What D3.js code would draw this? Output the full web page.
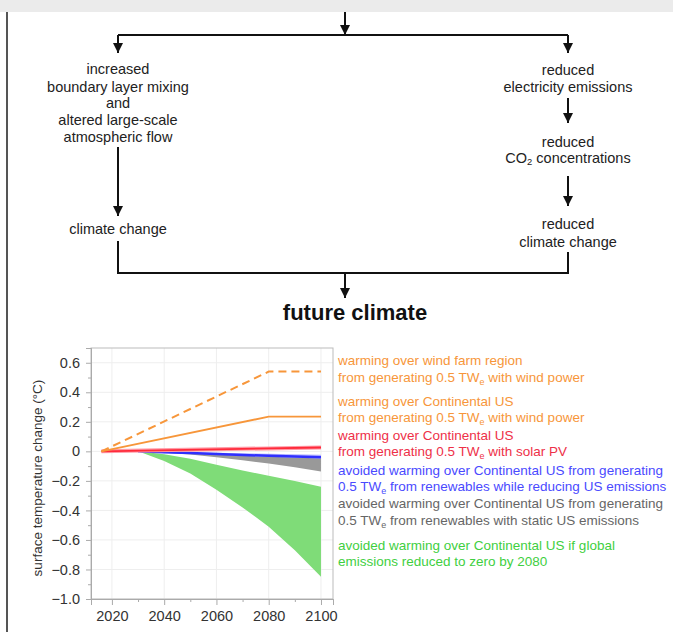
<!DOCTYPE html>
<html><head><meta charset="utf-8">
<script src="https://cdn.jsdelivr.net/npm/d3@7"></script>
<style>
html,body{margin:0;padding:0;background:#fff;}
svg{display:block;font-family:"Liberation Sans",Arial,Helvetica,sans-serif;}
</style></head>
<body>
<svg id="c" width="673" height="632"></svg>
<script>
// ---- data ----
const xTicks = [2020, 2040, 2060, 2080, 2100];
const yTicks = [0.6, 0.4, 0.2, 0, -0.2, -0.4, -0.6, -0.8, -1.0];
const lineYears = [2016, 2080, 2100];
const windRegion = [0, 0.54, 0.54];
const windUS = [0, 0.235, 0.235];
const solarUS = [0, 0.02, 0.026];
const bandYears = [2030, 2040, 2050, 2060, 2070, 2080, 2090, 2100];
const blueUpper = [0, -0.003, -0.006, -0.010, -0.013, -0.017, -0.020, -0.023];
const blueLower = [0, -0.007, -0.014, -0.022, -0.030, -0.037, -0.042, -0.048];
const grayUpper = [0, -0.007, -0.014, -0.022, -0.030, -0.037, -0.042, -0.048];
const grayLower = [0, -0.010, -0.022, -0.040, -0.060, -0.082, -0.107, -0.137];
const greenUpper = [0, -0.020, -0.050, -0.090, -0.130, -0.165, -0.200, -0.240];
const greenLower = [0, -0.065, -0.150, -0.260, -0.380, -0.510, -0.670, -0.850];
const legendLines = [
  ["warming over wind farm region", "from generating 0.5 TW|e| with wind power"],
  ["warming over Continental US", "from generating 0.5 TW|e| with wind power"],
  ["warming over Continental US", "from generating 0.5 TW|e| with solar PV"],
  ["avoided warming over Continental US from generating", "0.5 TW|e| from renewables while reducing US emissions"],
  ["avoided warming over Continental US from generating", "0.5 TW|e| from renewables with static US emissions"],
  ["avoided warming over Continental US if global", "emissions reduced to zero by 2080"]
];
const flowLeft = ["increased", "boundary layer mixing", "and", "altered large-scale", "atmospheric flow"];
const flowRight1 = ["reduced", "electricity emissions"];
const flowRight2 = ["reduced", "CO|2| concentrations"];
const flowRight3 = ["reduced", "climate change"];

// ---- drawing ----
const svg = d3.select("#c");
svg.append("rect").attr("x",0).attr("y",0).attr("width",673).attr("height",12).attr("fill","#ebebeb");
svg.append("line").attr("x1",7).attr("x2",7).attr("y1",12).attr("y2",632).attr("stroke","#555").attr("stroke-width",2);

const defs = svg.append("defs");
defs.append("marker").attr("id","ah").attr("viewBox","0 0 10 10").attr("refX",10).attr("refY",5)
  .attr("markerWidth",5).attr("markerHeight",5).attr("orient","auto").attr("markerUnits","strokeWidth")
  .append("path").attr("d","M0,0 L10,5 L0,10 Z").attr("fill","#111");

const fl = svg.append("g").attr("stroke","#111").attr("stroke-width",2).attr("fill","none");
function arrow(x, y1, y2){ fl.append("line").attr("x1",x).attr("x2",x).attr("y1",y1).attr("y2",y2).attr("marker-end","url(#ah)"); }
function seg(pts){ fl.append("path").attr("d", d3.line()(pts)); }
const LX = 118, RX = 568, CX = 345;
arrow(CX, 12, 35);
seg([[LX,35],[RX,35]]);
arrow(LX, 35, 53);
arrow(RX, 35, 53);
arrow(LX, 147, 216);
seg([[LX,241],[LX,273],[RX,273],[RX,252]]);
arrow(CX, 273, 298);
arrow(RX, 98, 123);
arrow(RX, 176, 206);

function richText(sel, str, subSize, shift){
  const parts = str.split("|");
  parts.forEach((p,i)=>{
    if(i%2===0){ sel.append("tspan").text(p); }
    else { sel.append("tspan").attr("font-size",subSize).attr("baseline-shift",shift||"sub").text(p); }
  });
}
function block(lines, x, ys, size){
  lines.forEach((l,i)=>{
    const t = svg.append("text").attr("x",x).attr("y",ys[i]).attr("dy","0.35em").attr("text-anchor","middle")
      .attr("font-size",size).attr("fill","#222");
    richText(t, l, size*0.65, "-2");
  });
}
const FS = 14.5;
block(flowLeft, LX, [69, 87, 103, 120, 137], FS);
block(["climate change"], LX, [229], FS);
block(flowRight1, RX, [70, 87], FS);
block(flowRight2, RX, [142, 158], FS);
block(flowRight3, RX, [224, 242], FS);
svg.append("text").attr("x",355).attr("y",312).attr("dy","0.35em").attr("text-anchor","middle")
  .attr("font-size",22).attr("font-weight","bold").attr("fill","#111").text("future climate");

// chart
const x = d3.scaleLinear().domain([2012, 2104.6]).range([91, 333]);
const y = d3.scaleLinear().domain([-1.0, 0.7]).range([599, 348]);
const g = svg.append("g");
// grid
g.selectAll(".vg").data(xTicks).join("line").attr("x1",d=>x(d)).attr("x2",d=>x(d)).attr("y1",348).attr("y2",599).attr("stroke","#eee");
g.selectAll(".hg").data(yTicks).join("line").attr("x1",91).attr("x2",333).attr("y1",d=>y(d)).attr("y2",d=>y(d)).attr("stroke","#eee");
// frame
g.append("rect").attr("x",91).attr("y",348).attr("width",242).attr("height",251).attr("fill","none").attr("stroke","#bbb");

const fmt = d => d===0 ? "0" : (d<0 ? "\u2212" + Math.abs(d).toFixed(1) : d.toFixed(1));
const yAxis = d3.axisLeft(y).tickValues(yTicks).tickFormat(fmt).tickSize(5).tickPadding(6);
const yMinor = d3.axisLeft(y).tickValues(d3.range(-0.9, 0.7, 0.2)).tickFormat("").tickSize(3);
const xAxis = d3.axisBottom(x).tickValues(xTicks).tickFormat(d3.format("d")).tickSize(6).tickPadding(6);
const xMinor = d3.axisBottom(x).tickValues([2030, 2050, 2070, 2090]).tickFormat("").tickSize(3);
function styleAxis(a){
  a.select(".domain").attr("stroke","#aaa");
  a.selectAll(".tick line").attr("stroke","#aaa");
  a.selectAll(".tick text").attr("fill","#333").attr("font-size",14.5).attr("font-family","'Liberation Sans',Arial,sans-serif");
}
styleAxis(g.append("g").attr("transform","translate(91,0)").call(yAxis));
styleAxis(g.append("g").attr("transform","translate(91,0)").call(yMinor));
styleAxis(g.append("g").attr("transform","translate(0,599)").call(xAxis));
styleAxis(g.append("g").attr("transform","translate(0,599)").call(xMinor));

svg.append("text").attr("transform","translate(37,478) rotate(-90)").attr("text-anchor","middle").attr("dy","0.35em")
  .attr("font-size",13.5).attr("fill","#333").text("surface temperature change (\u00B0C)");

// bands
function band(up, lo, fill, op){
  const area = d3.area().x((d,i)=>x(bandYears[i])).y0((d,i)=>y(lo[i])).y1((d,i)=>y(up[i]));
  g.append("path").datum(up).attr("d",area).attr("fill",fill).attr("fill-opacity",op);
}
band(greenUpper, greenLower, "#7fdc78", 1);
band(grayUpper, grayLower, "#999999", 1);
band(blueUpper, blueLower, "#8080ff", 0.6);
const ln = vals => d3.line().x((d,i)=>x(lineYears[i])).y(d=>y(d))(vals);
g.append("path").attr("d", d3.line().x((d,i)=>x(bandYears[i])).y((d,i)=>y((blueLower[i]*2+blueUpper[i])/3))(blueLower))
  .attr("fill","none").attr("stroke","#2f2fff").attr("stroke-width",2.5);
g.append("path").attr("d", ln(solarUS)).attr("fill","none").attr("stroke","#ff9aa6").attr("stroke-width",4);
g.append("path").attr("d", ln(solarUS)).attr("fill","none").attr("stroke","#ff2a3a").attr("stroke-width",1.8);
g.append("path").attr("d", ln(windUS)).attr("fill","none").attr("stroke","#f7963a").attr("stroke-width",1.8);
g.append("path").attr("d", ln(windRegion)).attr("fill","none").attr("stroke","#f7963a").attr("stroke-width",2).attr("stroke-dasharray","8,5");

// legend
const legColors = ["#f7963a", "#f7963a", "#ee3048", "#4a4aff", "#666666", "#3fcf3f"];
const legY = [[360, 377], [401, 417], [435, 451], [470, 486], [503, 520], [545, 561]];
legendLines.forEach((pair, k)=>{
  pair.forEach((l, j)=>{
    const t = svg.append("text").attr("x",338).attr("y",legY[k][j]).attr("dy","0.35em")
      .attr("font-size",13.5).attr("fill",legColors[k]);
    richText(t, l, 9, "-3");
  });
});
</script>
</body></html>
